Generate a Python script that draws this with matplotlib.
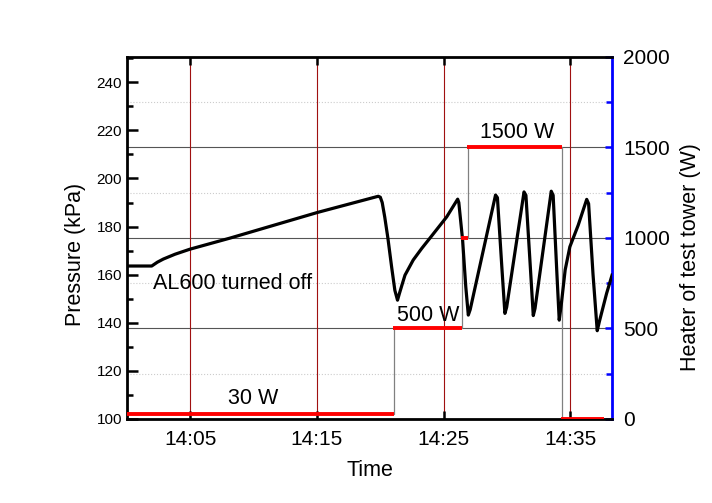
import numpy as np
import matplotlib.pyplot as plt
from matplotlib.ticker import MultipleLocator, FixedLocator

plt.rcParams['font.family'] = ['Liberation Sans', 'DejaVu Sans']

# minutes after 14:00
time_min = [0.0, 1.95, 2.4, 2.87, 3.79, 4.97, 8.13, 15.06, 19.84, 20.0, 20.15, 20.35, 20.6,
            20.9, 21.15, 21.36, 21.5, 21.7, 21.95, 22.6, 23.27, 23.92, 25.24, 26.11, 26.2,
            26.5, 26.75, 26.95, 27.1, 29.1, 29.25, 29.6, 29.84, 29.98, 31.35, 31.5,
            31.85, 32.08, 32.22, 33.5, 33.65, 33.95, 34.13, 34.3, 34.6, 34.97, 35.63,
            36.3, 36.45, 36.8, 37.13, 37.3, 37.87, 38.3]
pressure_kpa = [163.6, 163.6, 165.2, 166.5, 168.5, 170.6, 175.2, 185.9, 192.6, 192.2, 190.0,
                184.0, 175.2, 163.0, 153.5, 149.4, 152.0, 155.5, 159.8, 166.1, 170.9, 175.2,
                184.0, 191.4, 190.0, 174.4, 155.0, 143.2, 145.5, 193.1, 192.0, 163.0,
                143.9, 146.5, 194.4, 193.0, 163.0, 143.0, 146.0, 194.7, 193.0, 160.0,
                141.1, 148.0, 162.0, 171.6, 180.6, 191.3, 189.5, 160.0, 136.7, 140.5, 152.2,
                159.8]

# heater power steps
heater_t = [0.0, 21.05, 26.42, 26.92, 34.35, 37.66]
heater_w = [30, 500, 1000, 1500, 0, 0]
heater_labels = ['30 W', '500 W', '1500 W']

xtick_pos = [5, 15, 25, 35]
xtick_labels = ['14:05', '14:15', '14:25', '14:35']

fig = plt.figure(figsize=(7.12, 5.03), dpi=100)
ax = fig.add_axes([0.1784, 0.167, 0.6812, 0.7197])
ax2 = ax.twinx()
ax.set_zorder(ax2.get_zorder() + 1)
ax.patch.set_visible(False)

# grid from heater axis
for w in [500, 1000, 1500]:
    ax2.axhline(w, color='#555555', lw=0.8, zorder=1)
for w in [250, 750, 1250, 1750]:
    ax2.axhline(w, color='#cccccc', lw=0.8, ls=':', zorder=1)
ax2.step(heater_t, heater_w, where='post', color='#808080', lw=0.9, zorder=2)

for xp in xtick_pos:
    ax.axvline(xp, color='#a01010', lw=0.8, zorder=1)

ax.plot(time_min, pressure_kpa, color='k', lw=2.3, solid_joinstyle='round', zorder=3)

# red heater levels
for i in range(len(heater_t) - 1):
    ax.plot([heater_t[i] - 0.05, heater_t[i + 1]], [heater_w[i], heater_w[i]],
            color='#ff0000', lw=2.8, solid_capstyle='butt',
            transform=ax2.transData, zorder=4)

ax.text(8.3, 156.5, 'AL600 turned off', fontsize=15.5, ha='center', va='center')
ax.text(9.95, 116, heater_labels[0], fontsize=15.5, ha='center', va='center', transform=ax2.transData)
ax.text(23.76, 570, heater_labels[1], fontsize=15.5, ha='center', va='center', transform=ax2.transData)
ax.text(30.77, 1584, heater_labels[2], fontsize=15.5, ha='center', va='center', transform=ax2.transData)

ax.set_xlim(0, 38.3)
ax.set_ylim(100, 250.5)
ax2.set_ylim(0, 2000)

ax.xaxis.set_major_locator(FixedLocator(xtick_pos))
ax.set_xticklabels(xtick_labels)
ax.set_yticks(np.arange(100, 241, 20))
ax.yaxis.set_minor_locator(MultipleLocator(10))
ax2.set_yticks(np.arange(0, 2001, 500))
ax2.yaxis.set_minor_locator(MultipleLocator(250))

ax.tick_params(axis='x', which='both', direction='in', top=True, length=6, width=1.8,
               labelsize=15, pad=8)
ax.tick_params(axis='y', which='major', direction='in', right=False, length=8, width=1.8,
               labelsize=11)
ax.tick_params(axis='y', which='minor', direction='in', right=False, length=4, width=1.8)
ax2.tick_params(axis='y', which='major', direction='in', color='blue', length=5, width=1.8,
                labelsize=15, pad=8)
ax2.tick_params(axis='y', which='minor', direction='in', color='blue', length=4, width=1.8)

for s in ['left', 'bottom', 'top']:
    ax.spines[s].set_linewidth(2.0)
ax.spines['right'].set_visible(False)
for s in ['left', 'bottom', 'top']:
    ax2.spines[s].set_visible(False)
ax2.spines['right'].set_color('blue')
ax2.spines['right'].set_linewidth(2.0)

ax.set_xlabel('Time', fontsize=15.5, labelpad=8)
ax.set_ylabel('Pressure (kPa)', fontsize=15.5)
ax.yaxis.set_label_coords(-0.085, 0.455)
ax2.set_ylabel('Heater of test tower (W)', fontsize=15.5)
ax2.yaxis.set_label_coords(1.14, 0.448)

fig.savefig('out.png', dpi=100)
